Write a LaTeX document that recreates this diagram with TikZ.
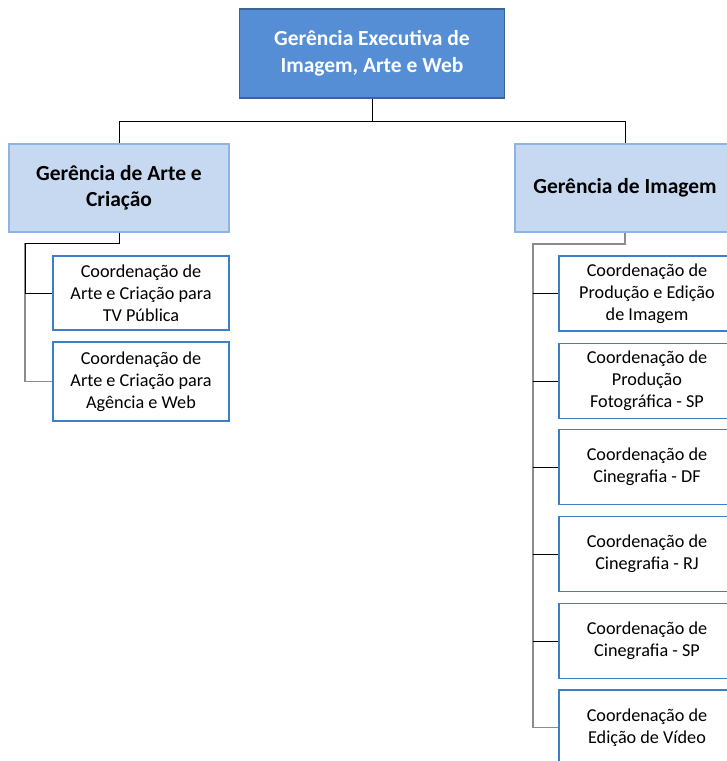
\documentclass[tikz,border=0pt]{standalone}
\usepackage{fontspec}
\setmainfont{Carlito}
\usetikzlibrary{positioning}
\definecolor{execfill}{HTML}{558ED5}
\definecolor{execline}{HTML}{3C6496}
\definecolor{gerfill}{HTML}{C6D9F1}
\definecolor{gerline}{HTML}{8EB4E3}
\definecolor{coordline}{HTML}{3A80C8}
\definecolor{spine}{HTML}{8C8C8C}

\begin{document}
\begin{tikzpicture}[x=1pt, y=-1pt,
  execbox/.style={draw=execline, fill=execfill, line width=1.2pt, shape=rectangle, minimum width=265pt, minimum height=89pt, align=center, text=white, font=\fontsize{21.5}{26.5}\selectfont\bfseries},
  gerbox/.style={draw=gerline, fill=gerfill, line width=1.2pt, shape=rectangle, minimum width=220pt, minimum height=88pt, align=center, font=\fontsize{21.5}{26.5}\selectfont\bfseries},
  coordbox/.style={draw=coordline, fill=white, line width=1.3pt, shape=rectangle, minimum width=176pt, minimum height=75pt, inner sep=2pt, align=center, font=\fontsize{18.2}{21.8}\selectfont},
  link/.style={draw=black, line width=0.8pt},
  spineline/.style={draw=spine, line width=1.6pt}]
\useasboundingbox (0,0) rectangle (727,761);
\node[execbox] (exec) at (372,53.5) {Gerência Executiva de\\Imagem, Arte e Web};
\node[gerbox] (garte) at (119,188) {Gerência de Arte e\\Criação};
\node[gerbox] (gimg) at (625,188) {Gerência de Imagem};
% arte e criacao
\node[coordbox, minimum height=74pt] (ctv) at (141,293) {Coordenação de\\Arte e Criação para\\TV Pública};
\node[coordbox, minimum height=79pt] (cag) at (141,381.5) {Coordenação de\\Arte e Criação para\\Agência e Web};
% imagem
\node[coordbox] (cprod) at (647,293.5) {Coordenação de\\Produção e Edição\\de Imagem};
\node[coordbox] (cfoto) at (647,381) {Coordenação de\\Produção\\Fotográfica - SP};
\node[coordbox] (cdf) at (647,467) {Coordenação de\\Cinegrafia - DF};
\node[coordbox] (crj) at (647,554) {Coordenação de\\Cinegrafia - RJ};
\node[coordbox] (csp) at (647,641) {Coordenação de\\Cinegrafia - SP};
\node[coordbox] (cvid) at (647,727.5) {Coordenação de\\Edição de Vídeo};
\coordinate (bus) at (372,121);
\coordinate (lspine) at (25,243);
\coordinate (rspine) at (533,244);
\draw[link] (exec.south) -- (bus);
\draw[link] (bus) -| (garte.north);
\draw[link] (bus) -| (gimg.north);
\draw[spineline] (lspine) |- (cag.west);
\draw[link] (garte.south) |- (lspine) |- (ctv.west);
\draw[spineline] (gimg.south) |- (rspine) |- (cvid.west);
\draw[link] (rspine |- cprod.west) -- (cprod.west);
\draw[link] (rspine |- cfoto.west) -- (cfoto.west);
\draw[link] (rspine |- cdf.west) -- (cdf.west);
\draw[link] (rspine |- crj.west) -- (crj.west);
\draw[link] (rspine |- csp.west) -- (csp.west);
\end{tikzpicture}
\end{document}
